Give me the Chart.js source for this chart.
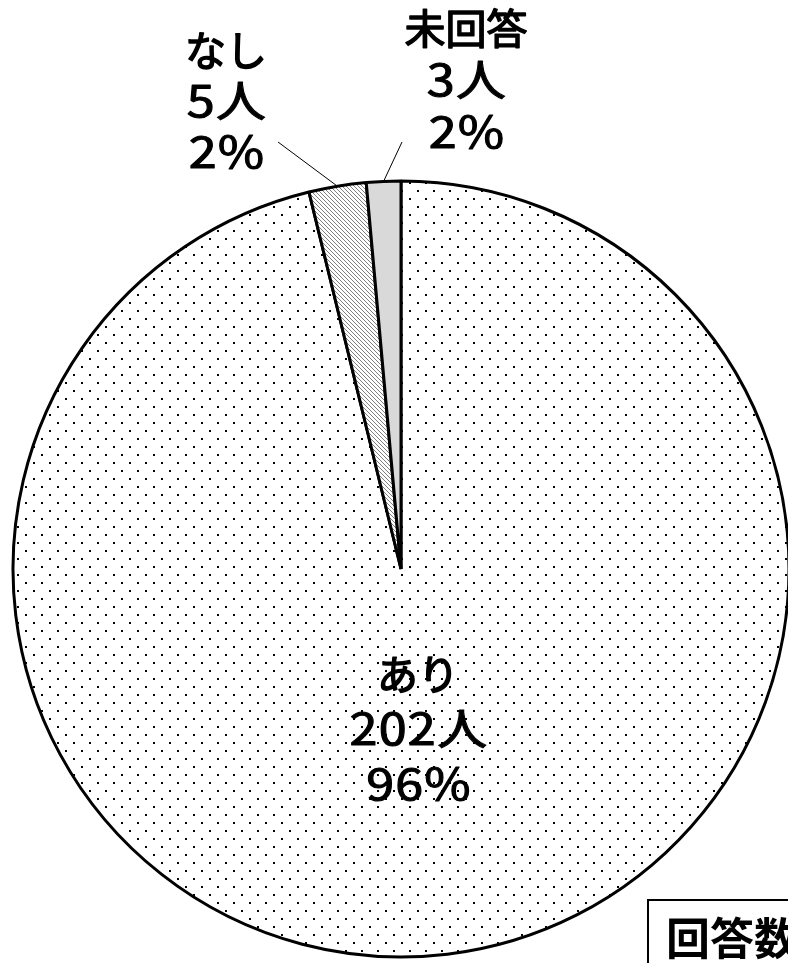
<!DOCTYPE html>
<html><head><meta charset="utf-8">
<script src="https://cdn.jsdelivr.net/npm/chart.js@4"></script>
<style>html,body{margin:0;padding:0;background:#fff;overflow:hidden}#wrap{position:relative;width:788px;height:963px}</style>
</head><body><div id="wrap"><canvas id="c" width="788" height="963"></canvas></div>
<script>
const categories = ['あり', 'なし', '未回答'];
const counts = [202, 5, 3];
const countLabels = ['202人', '5人', '3人'];
const percentLabels = ['96%', '2%', '2%'];
const totalLabel = '回答数：210人';

function dotPattern() {
  const c = document.createElement('canvas'); c.width = 16; c.height = 16;
  const x = c.getContext('2d');
  x.fillStyle = '#fff'; x.fillRect(0, 0, 16, 16);
  x.fillStyle = '#000';
  x.fillRect(1, 14, 2, 2); x.fillRect(9, 6, 2, 2);
  return x.createPattern(c, 'repeat');
}
function hatchPattern() {
  const c = document.createElement('canvas'); c.width = 4; c.height = 4;
  const x = c.getContext('2d');
  x.fillStyle = '#fff'; x.fillRect(0, 0, 4, 4);
  x.fillStyle = '#808080';
  for (let i = 0; i < 4; i++) x.fillRect(i, i, 1, 1);
  return x.createPattern(c, 'repeat');
}

const CJK = '"Noto Sans CJK JP", "Noto Sans", sans-serif';

function boldText(ctx, t, x, y, sx, lw) {
  ctx.save();
  ctx.translate(x, y);
  ctx.scale(sx, 1);
  ctx.lineWidth = lw;
  ctx.lineJoin = 'round';
  ctx.strokeStyle = '#000';
  ctx.fillText(t, 0, 0);
  ctx.strokeText(t, 0, 0);
  ctx.restore();
}

const labelPlugin = {
  id: 'labels',
  afterDraw(chart) {
    const ctx = chart.ctx;
    const meta = chart.getDatasetMeta(0);
    ctx.save();
    ctx.fillStyle = '#000';
    ctx.textAlign = 'center';
    ctx.textBaseline = 'middle';
    const blocks = [
      { x: 418, y: 674, lines: [categories[0], countLabels[0], percentLabels[0]], leader: null, gap: 55 },
      { x: 226, y: 50, lines: [categories[1], countLabels[1], percentLabels[1]], leader: [278, 142], gap: 51 },
      { x: 466, y: 28, lines: [categories[2], countLabels[2], percentLabels[2]], leader: [402, 142], gap: 52 }
    ];
    blocks.forEach((b, i) => {
      b.lines.forEach((t, k) => {
        if (k === 0) { ctx.font = '41px ' + CJK; ctx.letterSpacing = '0px'; boldText(ctx, t, b.x, b.y, 1, 1.5); }
        else { ctx.font = '43px ' + CJK; ctx.letterSpacing = '1px'; boldText(ctx, t, b.x + 1, b.y + k * b.gap, 1.17, 1.05); }
      });
      if (b.leader) {
        const arc = meta.data[i];
        const mid = (arc.startAngle + arc.endAngle) / 2;
        const px = arc.x + Math.cos(mid) * arc.outerRadius;
        const py = arc.y + Math.sin(mid) * arc.outerRadius;
        ctx.beginPath();
        ctx.lineWidth = 1;
        ctx.strokeStyle = '#000';
        ctx.moveTo(b.leader[0], b.leader[1]);
        ctx.lineTo(px, py);
        ctx.stroke();
      }
    });
    ctx.letterSpacing = '0px';
    // total box
    ctx.fillStyle = '#fff';
    ctx.fillRect(648, 900, 200, 100);
    ctx.strokeStyle = '#000';
    ctx.lineWidth = 2;
    ctx.strokeRect(648, 900, 200, 100);
    ctx.fillStyle = '#000';
    ctx.textAlign = 'left';
    ctx.textBaseline = 'top';
    ctx.font = 'bold 44px ' + CJK;
    ctx.fillText(totalLabel, 666, 916);
    ctx.restore();
  }
};

new Chart(document.getElementById('c'), {
  type: 'pie',
  data: {
    labels: categories,
    datasets: [{
      data: counts,
      backgroundColor: [dotPattern(), hatchPattern(), '#d9d9d9'],
      borderColor: '#000',
      borderWidth: 3,
      hoverOffset: 0,
      radius: 388
    }]
  },
  options: {
    responsive: false,
    animation: false,
    devicePixelRatio: 1,
    layout: { padding: { left: 14, right: 0, top: 175, bottom: 0 } },
    plugins: { legend: { display: false }, tooltip: { enabled: false } },
    events: []
  },
  plugins: [{ id: 'bg', beforeDraw(c) { const x = c.ctx; x.save(); x.fillStyle = '#fff'; x.fillRect(0, 0, c.width, c.height); x.restore(); } }, labelPlugin]
});
</script></body></html>
